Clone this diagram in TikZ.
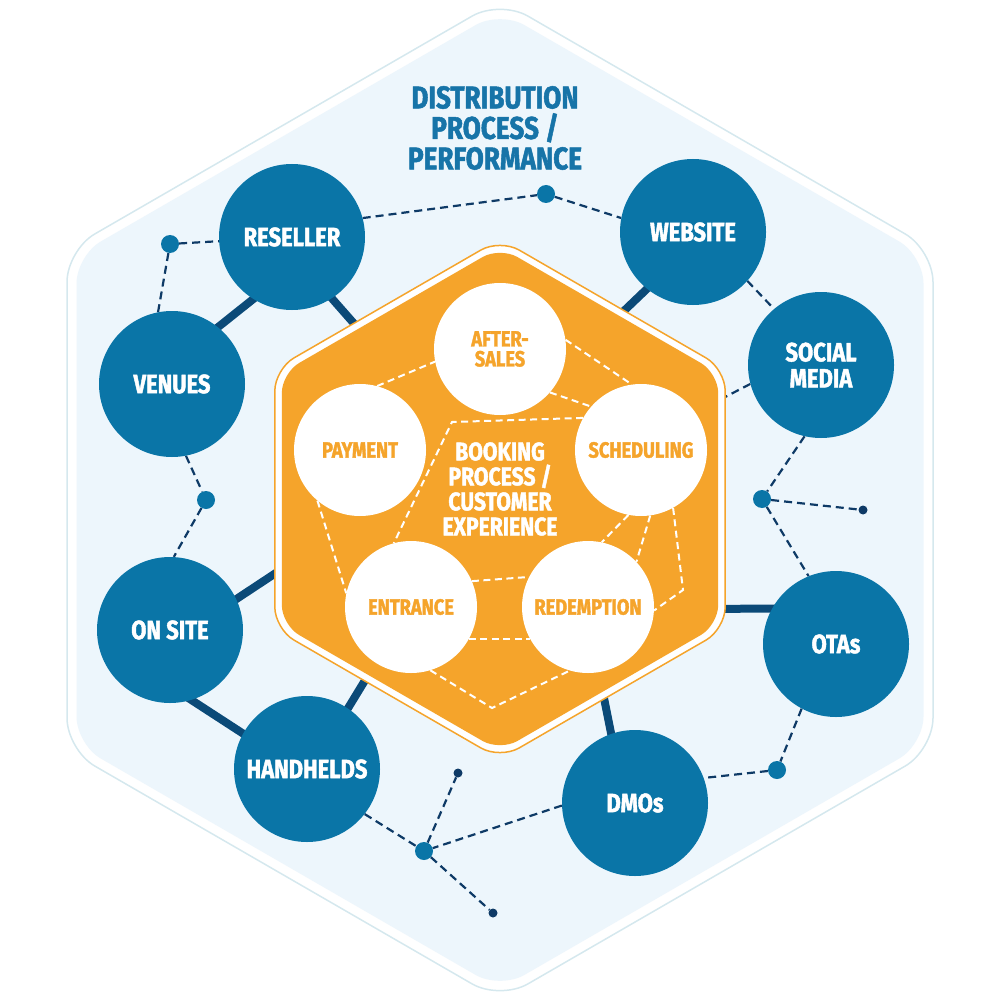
\documentclass[tikz,border=0pt]{standalone}
\usepackage{fontspec}
\setmainfont{Fira Sans}[FakeStretch=0.83, BoldFeatures={FakeBold=1.6}]
\definecolor{cblue}{HTML}{0A75A7}
\definecolor{cdark}{HTML}{0B4A78}
\definecolor{cdash}{HTML}{0E3A66}
\definecolor{corange}{HTML}{F5A42B}
\definecolor{clight}{HTML}{EDF6FC}
\definecolor{cpale}{HTML}{D5E8EE}
\definecolor{ctitle}{HTML}{1774A8}
\pgfdeclarelayer{layzero}
\pgfdeclarelayer{layone}
\pgfdeclarelayer{laytwo}
\pgfsetlayers{layzero,layone,laytwo,main}
\begin{document}
\begin{tikzpicture}[x=1pt,y=-1pt,
  bluenode/.style={circle, fill=cblue, minimum size=146pt, inner sep=0pt, text=white, align=center, font=\bfseries\fontsize{26.5}{26}\selectfont},
  whitenode/.style={circle, fill=white, minimum size=132pt, inner sep=0pt, text=corange, align=center, font=\bfseries\fontsize{22}{20}\selectfont},
  bigdot/.style={circle, fill=cblue, minimum size=18pt, inner sep=0pt},
  smalldot/.style={circle, fill=cdash, minimum size=9pt, inner sep=0pt},
  thicklink/.style={draw=cdark, line width=8pt, shorten <=-4pt, shorten >=-4pt},
  dashlink/.style={draw=cdash, line width=2.2pt, dash pattern=on 8pt off 5pt},
  wdash/.style={draw=white, line width=2pt, dash pattern=on 7pt off 4.5pt}]
\useasboundingbox (0,0) rectangle (1000,1000);

% outer hexagon
\begin{pgfonlayer}{layzero}
\draw[draw=cpale, line width=1.5pt, fill=white, rounded corners=32pt]
  (500,0) -- (933,250) -- (933,750) -- (500,1000) -- (67,750) -- (67,250) -- cycle;
\fill[clight, rounded corners=28pt]
  (500,11) -- (923.5,255.5) -- (923.5,744.5) -- (500,989) -- (76.5,744.5) -- (76.5,255.5) -- cycle;
\end{pgfonlayer}

% orange hexagon
\begin{pgfonlayer}{layone}
\draw[draw=corange, line width=1.5pt, fill=white, rounded corners=22pt]
  (500,239) -- (725.2,369) -- (725.2,629) -- (500,759) -- (274.8,629) -- (274.8,369) -- cycle;
\fill[corange, rounded corners=20pt]
  (500,247) -- (718.2,373) -- (718.2,625) -- (500,751) -- (281.8,625) -- (281.8,373) -- cycle;
\end{pgfonlayer}

% title
\node[text=ctitle, align=center, font=\bfseries\fontsize{31.5}{30.5}\selectfont] (title) at (495,128) {DISTRIBUTION\\PROCESS /\\PERFORMANCE};

% blue nodes
\node[bluenode] (reseller) at (292,237) {RESELLER};
\node[bluenode] (venues) at (172,384) {VENUES};
\node[bluenode] (website) at (693,232) {WEBSITE};
\node[bluenode] (social) at (821,365) {SOCIAL\\MEDIA};
\node[bluenode] (onsite) at (170,630) {ON SITE};
\node[bluenode] (handhelds) at (307,769) {HANDHELDS};
\node[bluenode] (otas) at (836,644) {OTAs};
\node[bluenode] (dmos) at (635,803) {DMOs};

% white nodes
\node[whitenode] (aftersales) at (500,349) {AFTER-\\SALES};
\node[whitenode] (payment) at (360,450) {PAYMENT};
\node[whitenode] (scheduling) at (641,450) {SCHEDULING};
\node[whitenode] (entrance) at (411,607) {ENTRANCE};
\node[whitenode] (redemption) at (588,607) {REDEMPTION};

\node[text=white, align=center, font=\bfseries\fontsize{25.5}{25}\selectfont] (booking) at (500,489) {BOOKING\\PROCESS /\\CUSTOMER\\EXPERIENCE};

% dots
\node[bigdot] (dotA) at (170,244) {};
\node[bigdot] (dotB) at (546,194) {};
\node[bigdot] (dotC) at (762,499) {};
\node[smalldot] (dotD) at (863,510) {};
\node[bigdot] (dotE) at (777,770) {};
\node[bigdot] (dotF) at (424,851) {};
\node[smalldot] (dotG) at (458,773) {};
\node[smalldot] (dotH) at (493,913) {};
\node[bigdot] (dotI) at (206,500) {};

% hex attachment points
\coordinate (hR) at (372,344);
\coordinate (hW) at (605,329);
\coordinate (hO) at (297,559);
\coordinate (hH) at (375,664);
\coordinate (hT) at (705,609);
\coordinate (hD) at (600,678);
\coordinate (hS) at (700,410);

\begin{pgfonlayer}{layzero}
% thick connectors
\draw[thicklink] (reseller.238) -- (venues.51);
\draw[thicklink] (reseller.303) -- (hR);
\draw[thicklink] (website.231.6) -- (hW);
\draw[thicklink] (onsite.25.5) -- (hO);
\draw[thicklink] (onsite.287.5) -- (handhelds.151);
\draw[thicklink] (handhelds.56.5) -- (hH);
\draw[thicklink] (otas.151) -- (hT);
\draw[thicklink] (dmos.109) -- (hD);
% dashed network
\draw[dashlink] (dotA) -- (reseller);
\draw[dashlink] (dotA) -- (venues.101);
\draw[dashlink] (reseller.15) -- (dotB);
\draw[dashlink] (dotB) -- (website.169);
\draw[dashlink] (website.318) -- (social.130);
\draw[dashlink] (social.195.5) -- (hS);
\draw[dashlink] (social.257.6) -- (dotC);
\draw[dashlink] (dotC) -- (dotD);
\draw[dashlink] (dotC) -- (otas.112.6);
\draw[dashlink] (otas.242.7) -- (dotE);
\draw[dashlink] (dotE) -- (dmos.20);
\draw[dashlink] (dmos.182) -- (dotF);
\draw[dashlink] (dotF) -- (dotG);
\draw[dashlink] (dotF) -- (dotH);
\draw[dashlink] (handhelds.322) -- (dotF);
\draw[dashlink] (venues.281.5) -- (dotI);
\draw[dashlink] (dotI) -- (onsite.87);
\end{pgfonlayer}

% white dashed links inside orange hexagon
\coordinate (c1) at (452,422);
\coordinate (c2) at (683,590);
\coordinate (c3) at (492,708);
\begin{pgfonlayer}{laytwo}
\draw[wdash] (payment.75) -- (aftersales.191);
\draw[wdash] (aftersales.8) -- (scheduling.98);
\draw[wdash] (aftersales.319) -- (scheduling.139);
\draw[wdash] (scheduling.151) -- (c1) -- (entrance.105);
\draw[wdash] (payment.230) -- (entrance.168);
\draw[wdash] (scheduling.259) -- (redemption.78);
\draw[wdash] (scheduling.278) -- (redemption.43);
\draw[wdash] (scheduling.299) -- (c2) -- (redemption.357);
\draw[wdash] (entrance.23) -- (redemption.153);
\draw[wdash] (entrance.331) -- (redemption.209);
\draw[wdash] (entrance.287) -- (c3) -- (redemption.254);
\end{pgfonlayer}
\end{tikzpicture}
\end{document}
